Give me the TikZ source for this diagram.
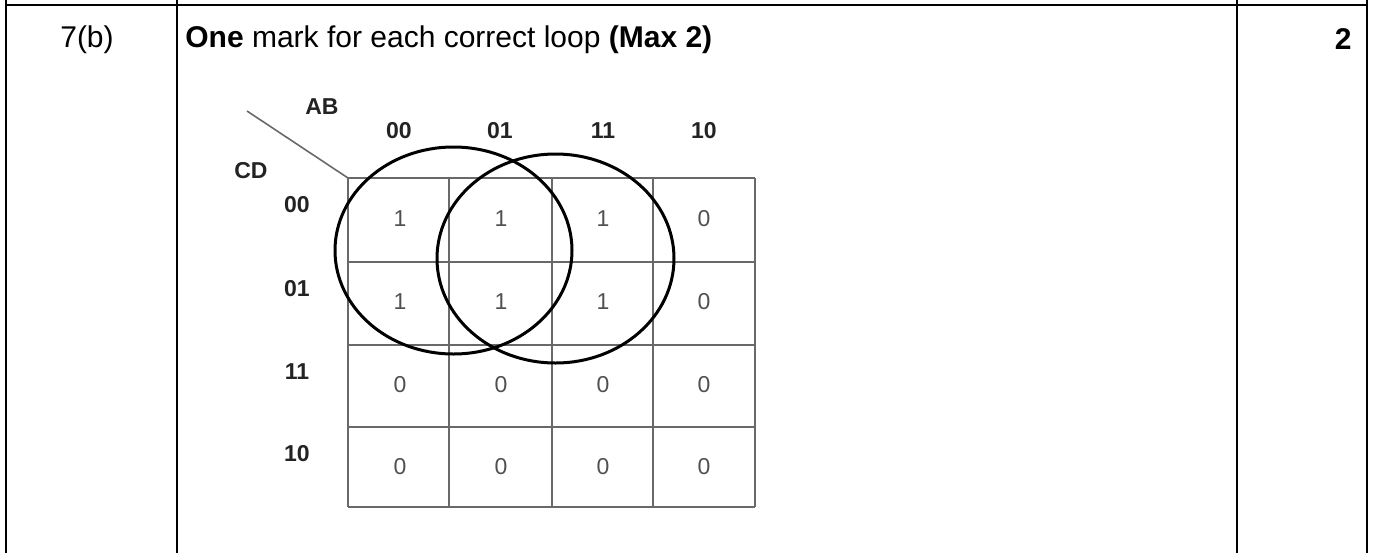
\documentclass[tikz,border=0pt]{standalone}
\usepackage{fontspec}
\setmainfont{Liberation Sans}
\usetikzlibrary{positioning}
\definecolor{kgrid}{RGB}{105,105,105}
\definecolor{kvalcol}{RGB}{80,80,80}
\definecolor{klabcol}{RGB}{35,35,35}

\begin{document}
\begin{tikzpicture}[
        x=0.5pt, y=-0.5pt,
        rule/.style={line width=1.3pt, black},
        loop/.style={line width=1.5pt, black},
        kline/.style={line width=0.9pt, kgrid},
        kval/.style={font=\fontsize{11.5}{13}\selectfont, text=kvalcol, inner sep=0pt},
        klab/.style={font=\fontsize{11.5}{13}\selectfont\bfseries, text=klabcol, inner sep=0pt},
        body/.style={font=\fontsize{15}{18}\selectfont, inner sep=0pt, anchor=base west},
    ]
        \useasboundingbox (0,0) rectangle (1373,553);

        % Table rules
        \draw[rule] (5,5) -- (1368,5);
        \foreach \x in {6,177,1237,1367} {
            \draw[rule] (\x,0) -- (\x,553);
        }

        % Question number, guidance and marks
        \node[body, anchor=base] (qnum) at (87,47) {7(b)};
        \node[body] (guide) at (185,47) {\textbf{One} mark for each correct loop \textbf{(Max 2)}};
        \node[body, anchor=base east] (marks) at (1352,49) {\textbf{2}};

        % K-map grid
        \coordinate (corner) at (348,178);
        \coordinate (diag) at (247,111);
        \draw[kline, line width=0.8pt] (diag) -- (corner);
        \foreach \x in {348,449,552,653,755} {
            \draw[kline] (\x,178) -- (\x,507);
        }
        \foreach \y in {178,262,345,427,507} {
            \draw[kline] (348,\y) -- (755,\y);
        }

        % Variable labels
        \node[klab] (ab) at (322,107) {AB};
        \node[klab] (cd) at (251,171) {CD};
        \foreach \c/\x/\t in {1/399/00, 2/500/01, 3/603/11, 4/704/10} {
            \node[klab] (col\c) at (\x,131) {\t};
        }
        \foreach \r/\y/\t in {1/205/00, 2/289/01, 3/372/11, 4/454/10} {
            \node[klab] (row\r) at (297,\y) {\t};
        }

        % Cell values
        \foreach \r/\y in {1/219, 2/302, 3/385, 4/467} {
            \foreach \c/\x in {1/400, 2/501, 3/603, 4/704} {
                \pgfmathtruncatemacro\v{and(\r<3,\c<4)}
                \node[kval] (v\r\c) at (\x,\y) {\v};
            }
        }

        % Loops
        \coordinate (loopA) at (453.5,250.5);
        \coordinate (loopB) at (555.5,258.5);
        \draw[loop] (loopA) ellipse [x radius=118.5, y radius=103.5];
        \draw[loop] (loopB) ellipse [x radius=118.5, y radius=104.5];
    \end{tikzpicture}
\end{document}
